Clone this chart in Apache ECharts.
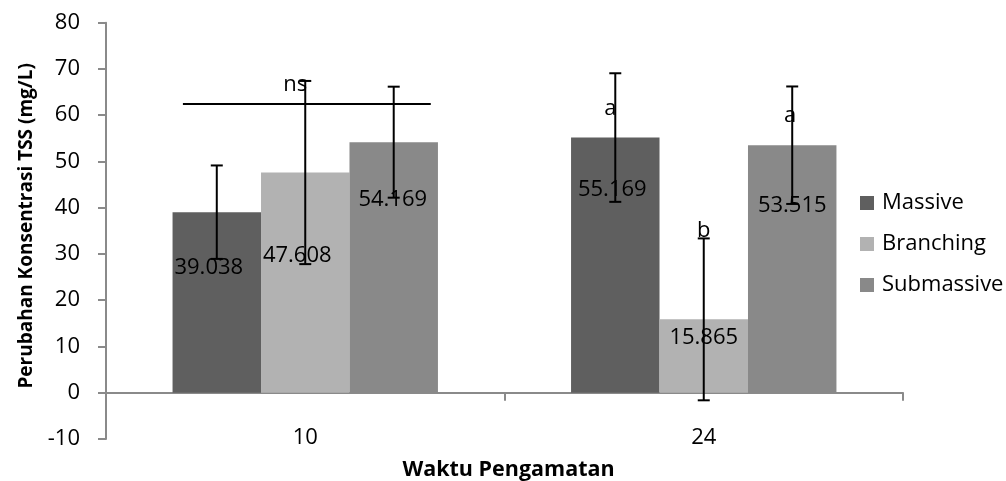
<!DOCTYPE html>
<html>
<head>
<meta charset="utf-8">
<script src="https://cdn.jsdelivr.net/npm/echarts@6/dist/echarts.min.js"></script>
<style>
html,body{margin:0;padding:0;background:#fff;}
#chart{width:1006px;height:481px;}
</style>
</head>
<body>
<div id="chart"></div>
<script>
// ---- data ----
const categories = ['10', '24'];
const seriesNames = ['Massive', 'Branching', 'Submassive'];
const massive = [39.038, 55.169];
const branching = [47.608, 15.865];
const submassive = [54.169, 53.515];
const massiveErr = [10.1, 13.9];
const branchingErr = [19.8, 17.5];
const submassiveErr = [12.0, 12.7];
// significance annotations: [categoryIndex, barIndex, value level, text]
const sigCats = [0, 1, 1, 1];
const sigBars = [1, 0, 1, 2];
const sigLevels = [64.9, 59.7, 33.4, 58.2];
const sigTexts = ['ns', 'a', 'b', 'a'];
const nsLineLevel = 62.4;
const yMin = -10, yMax = 80, yStep = 10;

// ---- styles ----
const colors = ['#5f5f5f', '#b2b2b2', '#898989'];
const FONT = 'Open Sans';
const labelShiftX = [[-8, -3], [-8, 0], [-1, 0]];
const labelShiftY = [[40, 36], [67, 2], [42, 45]];
const sigShiftX = [-10, -5, 0, -2];
const GAP = 0.334;

const values = [massive, branching, submassive];
const errs = [massiveErr, branchingErr, submassiveErr];

const chart = echarts.init(document.getElementById('chart'));

const barSeries = seriesNames.map((name, s) => ({
  name: name,
  type: 'bar',
  barGap: '0%',
  barCategoryGap: (GAP * 100) + '%',
  itemStyle: { color: colors[s] },
  z: 2,
  data: values[s].map((v, i) => ({
    value: v,
    label: {
      show: true,
      position: 'insideTop',
      distance: 5,
      offset: [labelShiftX[s][i], labelShiftY[s][i]],
      formatter: (p) => p.value.toFixed(3),
      color: '#000',
      fontFamily: FONT,
      fontSize: 22
    }
  }))
}));

const errData = [];
values.forEach((arr, s) => arr.forEach((v, i) => errData.push([i, s, v, errs[s][i]])));

function barX(api, cat, s) {
  const c = api.coord([cat, 0])[0];
  const band = api.size([1, 0])[0];
  const w = band * (1 - GAP) / 3;
  return c + (s - 1) * w;
}

const errSeries = {
  type: 'custom',
  z: 5,
  silent: true,
  encode: { x: 0, y: 2 },
  data: errData,
  renderItem: function (params, api) {
    const cat = api.value(0), s = api.value(1), v = api.value(2), e = api.value(3);
    const x = barX(api, cat, s);
    const yT = api.coord([cat, v + e])[1];
    const yB = api.coord([cat, v - e])[1];
    const cap = 6;
    const st = { stroke: '#000', lineWidth: 2 };
    return {
      type: 'group',
      children: [
        { type: 'line', shape: { x1: x, y1: yT, x2: x, y2: yB }, style: st },
        { type: 'line', shape: { x1: x - cap, y1: yT, x2: x + cap, y2: yT }, style: st },
        { type: 'line', shape: { x1: x - cap, y1: yB, x2: x + cap, y2: yB }, style: st }
      ]
    };
  }
};

const sigSeries = {
  type: 'custom',
  z: 6,
  silent: true,
  encode: { x: 0, y: 2 },
  data: sigCats.map((c, k) => [c, sigBars[k], sigLevels[k]]),
  renderItem: function (params, api) {
    const k = params.dataIndex;
    const cat = api.value(0), s = api.value(1), lv = api.value(2);
    const x = barX(api, cat, s) + sigShiftX[k];
    const y = api.coord([cat, lv])[1] - 8;
    return {
      type: 'text',
      x: x, y: y,
      style: { text: sigTexts[k], fontFamily: FONT, fontSize: 22, fill: '#000', align: 'center', verticalAlign: 'middle' }
    };
  }
};

const nsSeries = {
  type: 'custom',
  z: 6,
  silent: true,
  encode: { x: 0, y: 1 },
  data: [[0, nsLineLevel]],
  renderItem: function (params, api) {
    const c = api.coord([api.value(0), api.value(1)]);
    const band = api.size([1, 0])[0];
    return {
      type: 'line',
      shape: { x1: c[0] - 0.307 * band, y1: c[1], x2: c[0] + 0.315 * band, y2: c[1] },
      style: { stroke: '#000', lineWidth: 2 }
    };
  }
};

const axisGray = '#8a8a8a';

chart.setOption({
  animation: false,
  backgroundColor: '#fff',
  textStyle: { fontFamily: FONT },
  grid: { left: 106, right: 103, top: 22.7, bottom: 42, containLabel: false, outerBoundsMode: 'none' },
  legend: {
    orient: 'vertical',
    left: 855,
    top: 187,
    itemWidth: 14,
    itemHeight: 14,
    itemGap: 19,
    icon: 'rect',
    data: seriesNames,
    textStyle: { fontFamily: FONT, fontSize: 22, color: '#000', lineHeight: 22, padding: [0, 0, 0, 3] }
  },
  xAxis: {
    type: 'category',
    data: categories,
    name: 'Waktu Pengamatan',
    nameLocation: 'middle',
    nameGap: 20,
    nameTextStyle: { fontFamily: FONT, fontSize: 21.5, fontWeight: 'bold', color: '#000', padding: [0, 0, 0, 8] },
    axisLine: { onZero: true, lineStyle: { color: axisGray, width: 2 } },
    axisTick: { show: true, length: 8, lineStyle: { color: axisGray, width: 2 } },
    axisLabel: { margin: -12, fontFamily: FONT, fontSize: 22, color: '#000' },
    splitLine: { show: false }
  },
  yAxis: {
    type: 'value',
    min: yMin, max: yMax, interval: yStep,
    name: 'Perubahan Konsentrasi TSS (mg/L)',
    nameLocation: 'middle',
    nameGap: 70,
    nameTextStyle: { fontFamily: FONT, fontSize: 19, fontWeight: 'bold', color: '#000', padding: [0, 0, 0, 10] },
    axisLine: { show: true, lineStyle: { color: axisGray, width: 2 } },
    axisTick: { show: true, length: 8, lineStyle: { color: axisGray, width: 2 } },
    axisLabel: { margin: 26, fontFamily: FONT, fontSize: 22, color: '#000' },
    splitLine: { show: false }
  },
  series: [...barSeries, errSeries, nsSeries, sigSeries]
});
</script>
</body>
</html>
